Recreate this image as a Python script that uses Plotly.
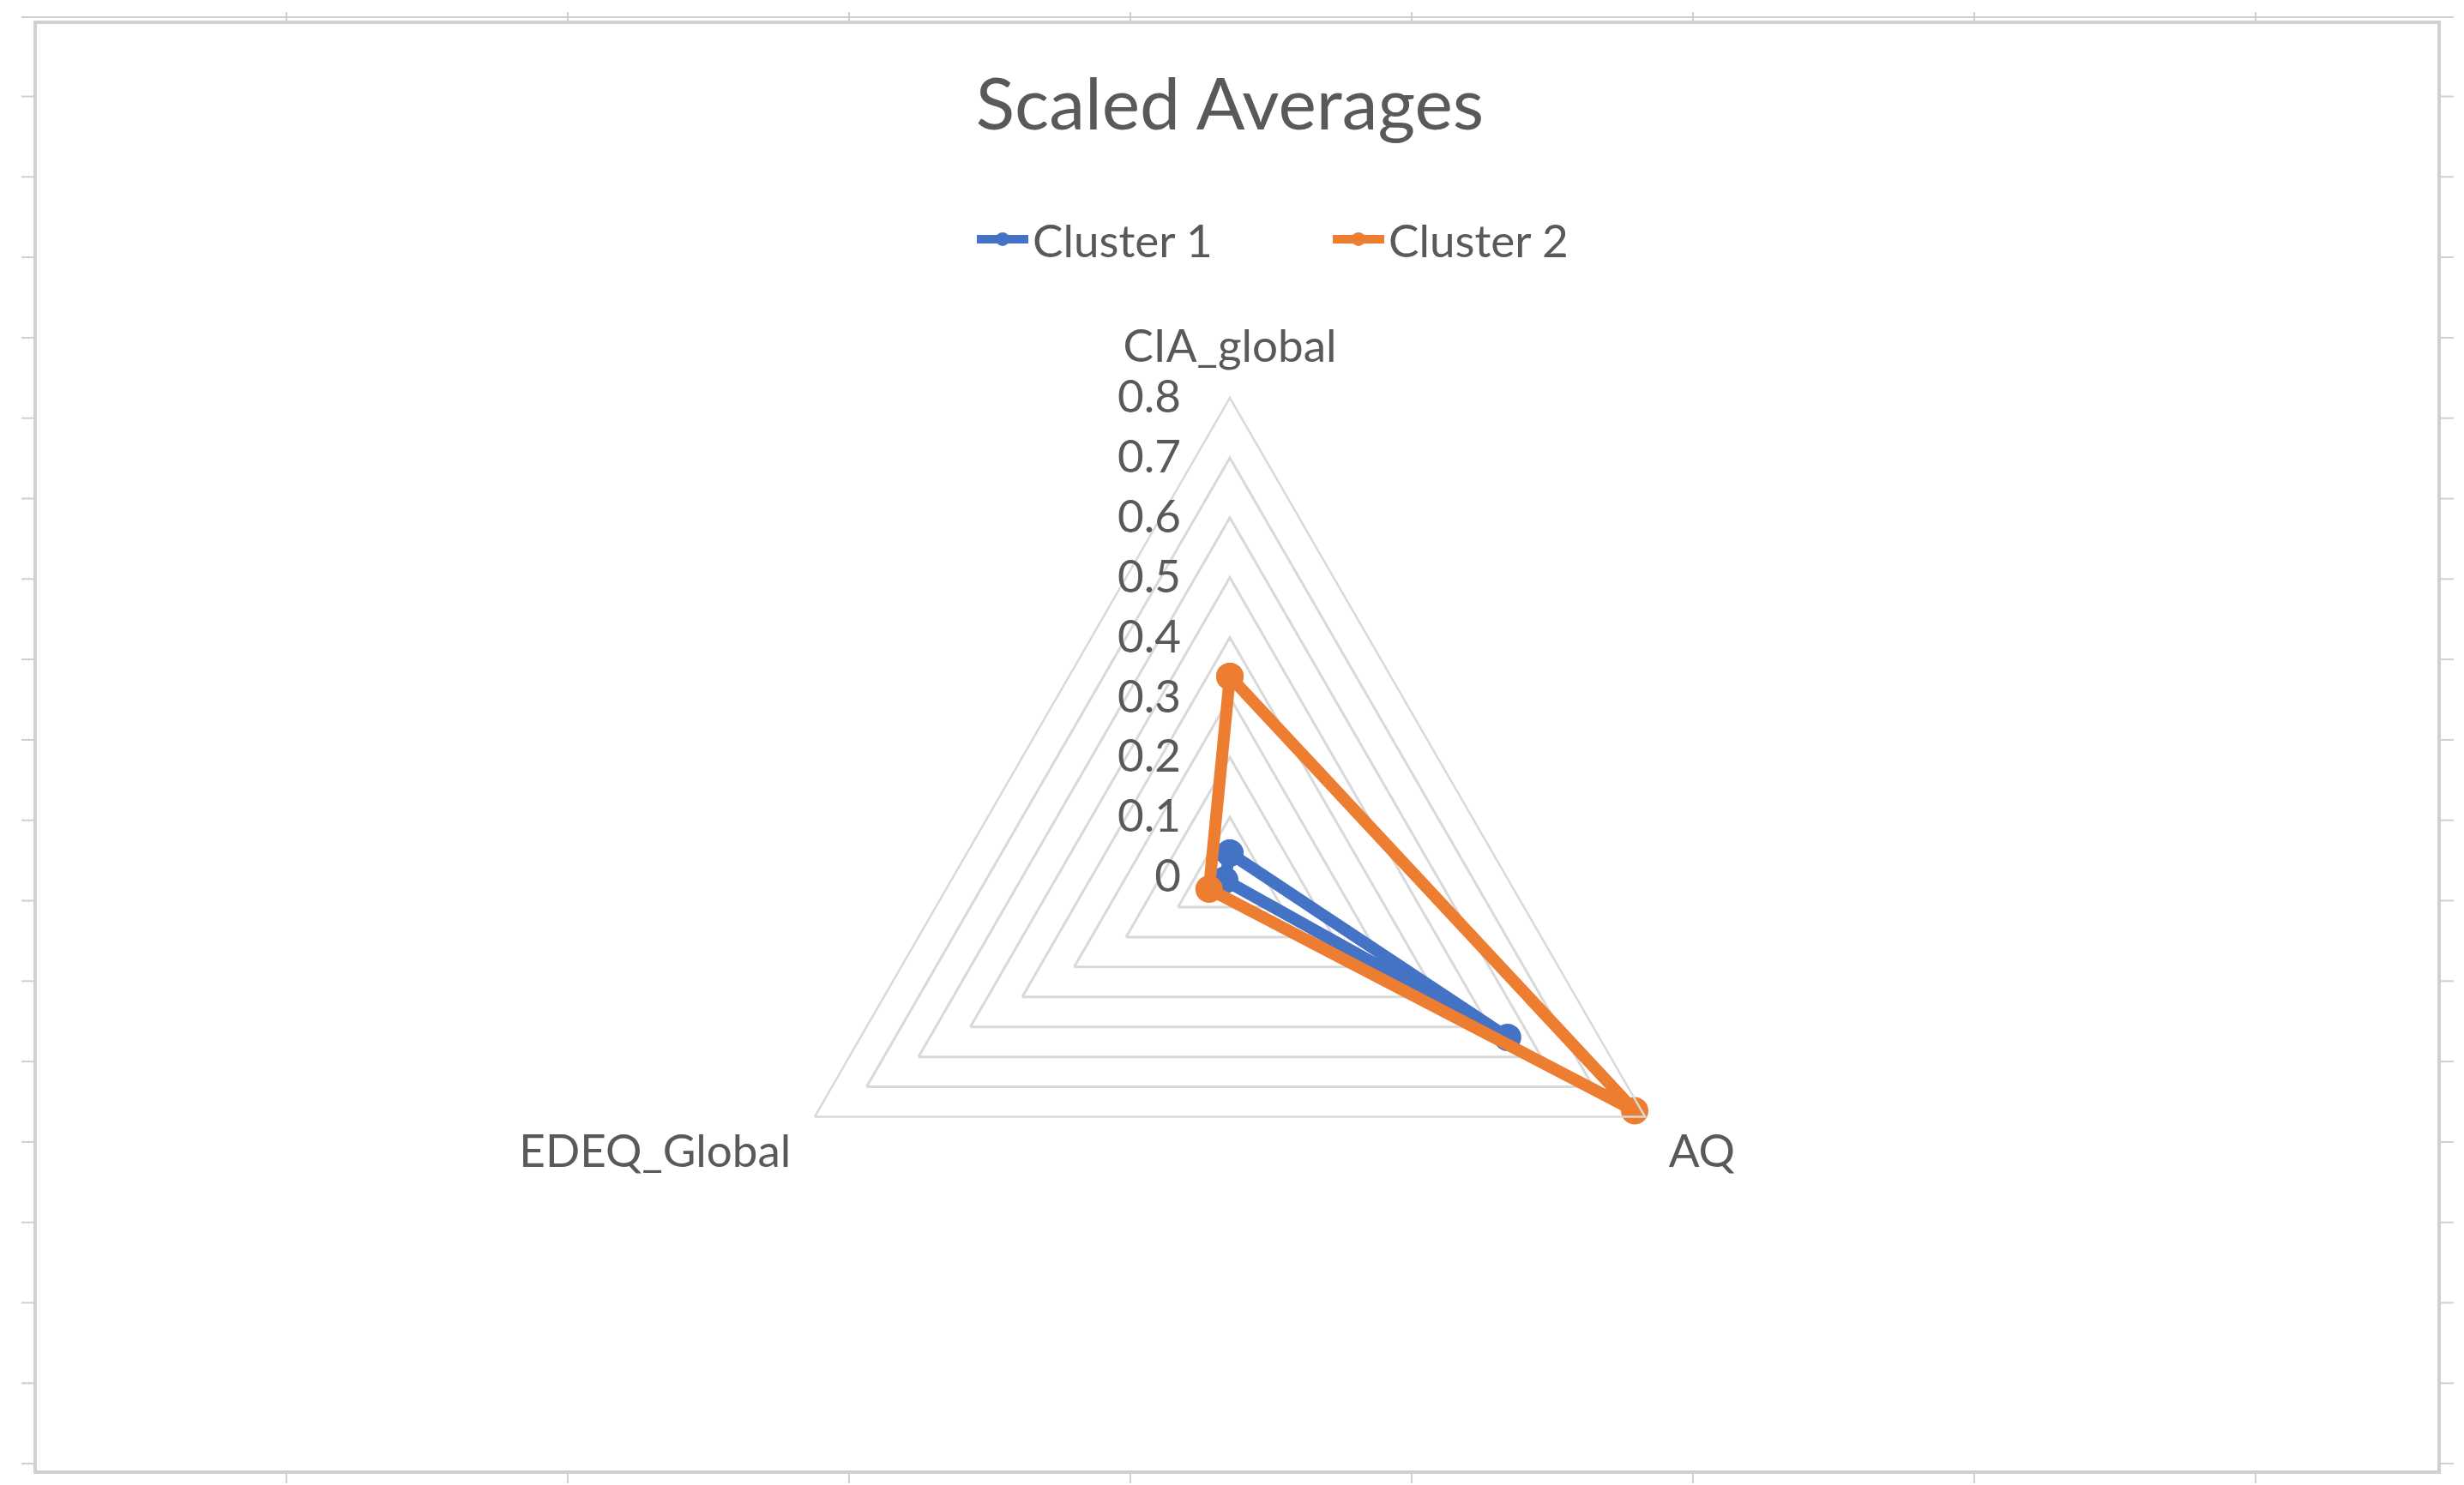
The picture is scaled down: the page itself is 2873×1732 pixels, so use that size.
import plotly.graph_objects as go

# ---- data ----
categories = ["CIA_global", "AQ", "EDEQ_Global"]
cluster1 = [0.04, 0.535, 0.01]
cluster2 = [0.335, 0.78, 0.04]
series_names = ["Cluster 1", "Cluster 2"]
radial_ticks = [0, 0.1, 0.2, 0.3, 0.4, 0.5, 0.6, 0.7, 0.8]
title_text = "Scaled Averages"

W, H = 2873, 1732
FONT = "Lato"
TEXT = "#595959"
GRID = "#D9D9D9"
BLUE = "#4472C4"
ORANGE = "#ED7D31"
FS = 53

fig = go.Figure()
for name, vals, col in [(series_names[0], cluster1, BLUE), (series_names[1], cluster2, ORANGE)]:
    fig.add_trace(go.Scatterpolar(
        r=vals + vals[:1],
        theta=categories + categories[:1],
        mode="lines+markers",
        name=name,
        line=dict(color=col, width=14),
        marker=dict(color=col, size=32),
    ))

# polar geometry: center px, radius px
cx, cy, R = 1426, 1015, 559
fig.update_layout(
    width=W, height=H,
    margin=dict(l=0, r=0, t=0, b=0),
    paper_bgcolor="white",
    plot_bgcolor="white",
    font=dict(family=FONT, color=TEXT, size=FS),
    title=dict(text=title_text, x=cx / W, xanchor="center", y=1 - 114 / H, yanchor="middle",
               font=dict(family=FONT, size=84, color=TEXT)),
    legend=dict(orientation="h", x=1126 / W, xanchor="left", y=1 - 271 / H, yanchor="middle",
                font=dict(family=FONT, size=FS, color=TEXT), itemwidth=60,
                entrywidth=340, bgcolor="rgba(0,0,0,0)"),
    polar=dict(
        domain=dict(x=[(cx - R) / W, (cx + R) / W], y=[1 - (cy + R) / H, 1 - (cy - R) / H]),
        gridshape="linear",
        bgcolor="white",
        radialaxis=dict(range=[0, 0.8], tickvals=radial_ticks, showline=False,
                        ticks="outside", ticklen=38, tickcolor="rgba(0,0,0,0)",
                        gridcolor=GRID, gridwidth=2.5, angle=90, tickangle=90,
                        side="counterclockwise",
                        tickfont=dict(family=FONT, size=FS, color=TEXT)),
        angularaxis=dict(rotation=90, direction="clockwise", showgrid=False,
                         showline=True, linecolor=GRID, linewidth=2.5,
                         ticks="outside", ticklen=20, tickcolor="rgba(0,0,0,0)",
                         tickfont=dict(family=FONT, size=FS, color=TEXT)),
    ),
)

# chart-area border and sheet gridline stubs
shapes = [dict(type="rect", xref="paper", yref="paper", x0=33 / W, x1=2836 / W,
               y0=1 - 1709 / H, y1=1 - 18 / H, line=dict(color="#D0D0D0", width=4))]
shapes.append(dict(type="line", xref="paper", yref="paper", x0=17 / W, x1=2853 / W,
                   y0=1 - 12 / H, y1=1 - 12 / H, line=dict(color="#D0D0D0", width=2)))
yk = 104.5
while yk < 1700:
    for x0, x1 in [(17, 33), (2836, 2853)]:
        shapes.append(dict(type="line", xref="paper", yref="paper", x0=x0 / W, x1=x1 / W,
                           y0=1 - yk / H, y1=1 - yk / H, line=dict(color="#D0D0D0", width=2)))
    yk += 93.8
xk = 326
while xk < 2836:
    for y0, y1 in [(6, 18), (1709, 1722)]:
        shapes.append(dict(type="line", xref="paper", yref="paper", x0=xk / W, x1=xk / W,
                           y0=1 - y0 / H, y1=1 - y1 / H, line=dict(color="#D0D0D0", width=2)))
    xk += 328
fig.update_layout(shapes=shapes)

fig.write_html("out.html")
